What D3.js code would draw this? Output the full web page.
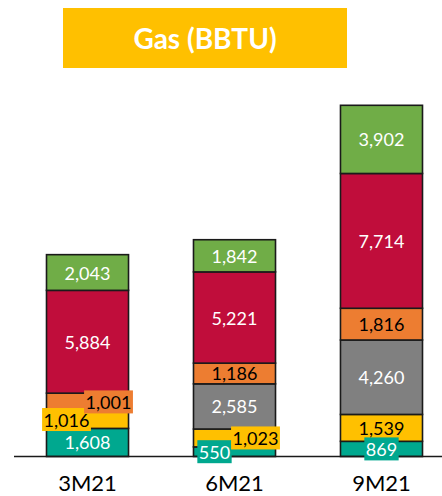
<!DOCTYPE html>
<html>
<head>
<meta charset="utf-8">
<script src="https://cdn.jsdelivr.net/npm/d3@7"></script>
<style>
  html, body { margin: 0; padding: 0; background: #fff; }
  svg { display: block; }
</style>
</head>
<body>
<svg id="chart" width="442" height="496"></svg>
<script>
// ---- data ----
const categories = ["3M21", "6M21", "9M21"];
const seriesKeys = ["teal", "yellow", "gray", "orange", "crimson", "green"];
const tealValues    = [1608, 550, 869];
const yellowValues  = [1016, 1023, 1539];
const grayValues    = [0, 2585, 4260];
const orangeValues  = [1001, 1186, 1816];
const crimsonValues = [5884, 5221, 7714];
const greenValues   = [2043, 1842, 3902];
const titleText = "Gas (BBTU)";

// ---- styles / layout (not data) ----
const colors = {
  teal: "#00A88F", yellow: "#FFC000", gray: "#808080",
  orange: "#ED7D31", crimson: "#C00D3B", green: "#70AD47"
};
const textColors = {
  teal: "#fff", yellow: "#000", gray: "#fff",
  orange: "#000", crimson: "#fff", green: "#fff"
};
// labels that sit in a coloured box, shifted sideways
const boxedLabels = {
  "3M21|orange": { dx: 21 },
  "3M21|yellow": { dx: -21 },
  "6M21|teal":   { dx: -20 },
  "6M21|yellow": { dx: 21 },
  "9M21|teal":   { dx: 0 }
};

const seriesValues = {
  teal: tealValues, yellow: yellowValues, gray: grayValues,
  orange: orangeValues, crimson: crimsonValues, green: greenValues
};
const table = categories.map((c, i) => {
  const row = { category: c };
  seriesKeys.forEach(k => row[k] = seriesValues[k][i]);
  return row;
});

const svg = d3.select("#chart");

// title box
svg.append("rect")
  .attr("x", 63).attr("y", 8).attr("width", 284).attr("height", 60)
  .attr("fill", "#FFC000");
svg.append("text")
  .attr("x", 205).attr("y", 38)
  .attr("text-anchor", "middle").attr("dominant-baseline", "central")
  .attr("font-family", "Lato, 'Open Sans', sans-serif")
  .attr("font-weight", "bold").attr("font-size", 28)
  .attr("fill", "#fff")
  .text(titleText);

const x = d3.scaleBand()
  .domain(categories)
  .range([46.5, 422.5])
  .paddingInner(0.442)
  .paddingOuter(0);

const y = d3.scaleLinear()
  .domain([0, 20100])
  .range([456.5, 105.3]);

const stacked = d3.stack().keys(seriesKeys)(table);

const gBars = svg.append("g");
stacked.forEach(layer => {
  gBars.selectAll(null)
    .data(layer.filter(d => d[1] - d[0] > 0))
    .join("rect")
    .attr("x", d => x(d.data.category))
    .attr("width", x.bandwidth())
    .attr("y", d => y(d[1]))
    .attr("height", d => y(d[0]) - y(d[1]))
    .attr("fill", colors[layer.key])
    .attr("stroke", "#1a1a1a")
    .attr("stroke-width", 1.6);
});

// baseline
svg.append("line")
  .attr("x1", 14).attr("x2", 442)
  .attr("y1", y(0)).attr("y2", y(0))
  .attr("stroke", "#1a1a1a").attr("stroke-width", 1.4);

// labels
const fmt = d3.format(",");
const gLabels = svg.append("g")
  .attr("font-family", "Lato, 'Open Sans', sans-serif")
  .attr("font-size", 18);

stacked.forEach(layer => {
  layer.filter(d => d[1] - d[0] > 0).forEach(d => {
    const key = d.data.category + "|" + layer.key;
    const boxed = boxedLabels[key];
    const cx = x(d.data.category) + x.bandwidth() / 2 + (boxed ? boxed.dx : 0);
    const cy = (y(d[0]) + y(d[1])) / 2;
    const g = gLabels.append("g");
    const t = g.append("text")
      .attr("x", cx).attr("y", cy)
      .attr("text-anchor", "middle")
      .attr("dominant-baseline", "central")
      .attr("fill", textColors[layer.key])
      .text(fmt(d.data[layer.key]));
    if (boxed) {
      const bb = t.node().getBBox();
      g.insert("rect", "text")
        .attr("x", bb.x - 1.5).attr("y", cy - 11.5)
        .attr("width", bb.width + 3).attr("height", 23)
        .attr("fill", colors[layer.key]);
    }
  });
});

// category labels
svg.append("g")
  .selectAll("text")
  .data(categories)
  .join("text")
  .attr("x", d => x(d) + x.bandwidth() / 2)
  .attr("y", 491)
  .attr("text-anchor", "middle")
  .attr("font-family", "Lato, 'Open Sans', sans-serif")
  .attr("font-size", 22)
  .attr("fill", "#000")
  .text(d => d);
</script>
</body>
</html>
